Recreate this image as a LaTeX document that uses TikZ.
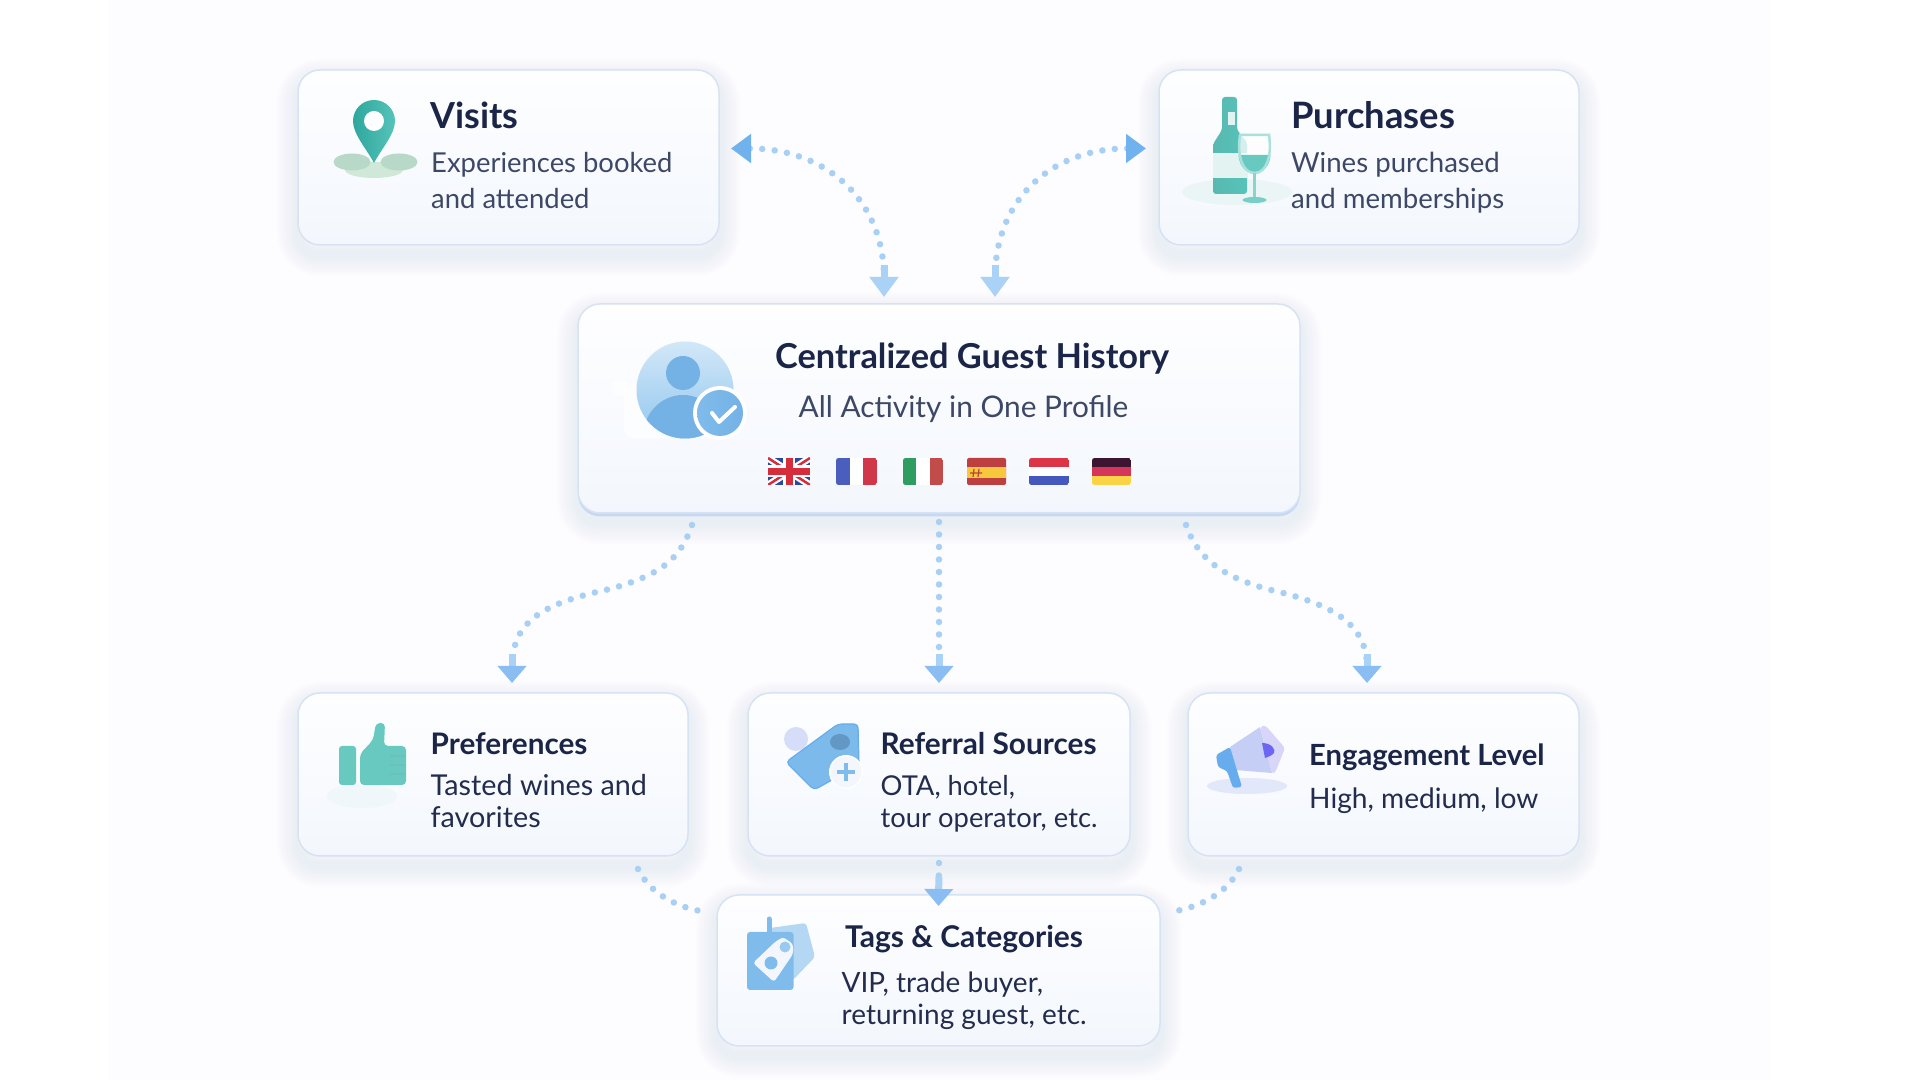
\documentclass[tikz,border=0pt]{standalone}
\usepackage{fontspec}
\setmainfont{Lato}
\usepackage{xcolor}
\usetikzlibrary{arrows.meta, calc}
\definecolor{panelbg}{RGB}{253, 252, 254}
\definecolor{cardtop}{RGB}{254, 254, 255}
\definecolor{cardlow}{RGB}{243, 247, 253}
\definecolor{cardedge}{RGB}{215, 226, 243}
\definecolor{shadowblue}{RGB}{176, 196, 232}
\definecolor{centeredge}{RGB}{198, 217, 243}
\definecolor{titleink}{RGB}{27, 37, 71}
\definecolor{bodyink}{RGB}{61, 71, 102}
\definecolor{lowink}{RGB}{35, 44, 77}
\definecolor{flowdot}{RGB}{168, 208, 245}
\definecolor{flowhead}{RGB}{112, 178, 238}
\definecolor{flowlow}{RGB}{138, 190, 242}
\definecolor{flowstem}{RGB}{170, 210, 246}
\definecolor{tealdark}{RGB}{47, 167, 157}
\definecolor{teallight}{RGB}{86, 195, 185}
\definecolor{tealpale}{RGB}{227, 243, 242}
\definecolor{sagemid}{RGB}{184, 216, 200}
\definecolor{sagepale}{RGB}{208, 232, 215}
\definecolor{skydark}{RGB}{116, 178, 230}
\definecolor{skymid}{RGB}{127, 188, 235}
\definecolor{skypale}{RGB}{180, 216, 243}
\definecolor{lavender}{RGB}{197, 207, 245}
\definecolor{lavpale}{RGB}{216, 214, 248}
\definecolor{violetcore}{RGB}{108, 102, 242}
\definecolor{megablue}{RGB}{103, 173, 238}
\definecolor{ukblue}{RGB}{43, 74, 158}
\definecolor{ukred}{RGB}{214, 45, 60}
\definecolor{frblue}{RGB}{74, 95, 189}
\definecolor{frred}{RGB}{208, 56, 74}
\definecolor{itgreen}{RGB}{45, 158, 95}
\definecolor{itred}{RGB}{194, 76, 74}
\definecolor{esred}{RGB}{190, 63, 63}
\definecolor{esgold}{RGB}{246, 201, 61}
\definecolor{nlred}{RGB}{220, 53, 69}
\definecolor{nlblue}{RGB}{68, 88, 190}
\definecolor{deblack}{RGB}{62, 21, 48}
\definecolor{dered}{RGB}{213, 53, 90}
\definecolor{degold}{RGB}{251, 211, 71}
\tikzset{
    softlayer/.style={preaction={draw=shadowblue, line width=#1,
        opacity=0.018, transform canvas={yshift=-0.10cm}}},
    softstack/.style={softlayer=0.42cm, softlayer=0.38cm,
        softlayer=0.34cm, softlayer=0.30cm, softlayer=0.26cm, softlayer=0.22cm,
        softlayer=0.18cm, softlayer=0.14cm, softlayer=0.10cm, softlayer=0.06cm},
    guestcard/.style={softstack,
        draw=cardedge, line width=0.015cm, rounded corners=0.22cm,
        top color=cardtop, bottom color=cardlow,
        inner sep=0pt, outer sep=0pt, anchor=north west},
    centercard/.style={softstack, preaction={fill=centeredge, transform canvas={yshift=-0.035cm}},
        draw=cardedge, line width=0.015cm, rounded corners=0.22cm,
        top color=cardtop, bottom color=cardlow,
        inner sep=0pt, outer sep=0pt, anchor=north west},
    cardtitle/.style={font=\fontsize{#1}{#1}\selectfont\bfseries, text=titleink,
        inner sep=0pt, anchor=base west},
    cardbody/.style={font=\fontsize{#1}{10.2}\selectfont, text=bodyink, align=left,
        inner sep=0pt, anchor=base west},
    lowbody/.style={font=\fontsize{#1}{9.2}\selectfont, text=lowink, align=left,
        inner sep=0pt, anchor=base west},
    dotflow/.style={draw=flowdot, line width=0.065cm, line cap=round,
        dash pattern=on 0pt off 0.125cm},
    headtip/.tip={Triangle[length=0.2cm, width=0.28cm, color=flowhead]},
    lowtip/.tip={Triangle[length=0.17cm, width=0.28cm, color=flowlow]},
    stemtip/.tip={Rectangle[length=0.12cm, width=0.05cm, color=flowstem, sep=0pt]},
}
\begin{document}
\begin{tikzpicture}
    \useasboundingbox (0,0) rectangle (19.2,10.8);
    % Page and panel
    \fill[white] (0,0) rectangle (19.2,10.8);
    \fill[panelbg] (1.08,0) rectangle (17.70,10.8);
    % Cards
    \node[guestcard, minimum width=4.21cm, minimum height=1.75cm] (visits) at (2.98,10.10) {};
    \node[guestcard, minimum width=4.20cm, minimum height=1.75cm] (purchases) at (11.59,10.10) {};
    \node[centercard, minimum width=7.22cm, minimum height=2.09cm] (central) at (5.78,7.76) {};
    \node[guestcard, minimum width=3.90cm, minimum height=1.63cm] (preferences) at (2.98,3.87) {};
    \node[guestcard, minimum width=3.82cm, minimum height=1.63cm] (referral) at (7.48,3.87) {};
    \node[guestcard, minimum width=3.91cm, minimum height=1.63cm] (engagement) at (11.88,3.87) {};
    \node[guestcard, minimum width=4.43cm, minimum height=1.51cm] (tags) at (7.17,1.85) {};
    % Card texts
    \node[cardtitle=10.2] (visitsTitle) at (4.30,9.515) {Visits};
    \node[cardbody=7.8] (visitsBody) at (4.305,8.715) {Experiences booked\\and attended};
    \node[cardtitle=10.35] (purchasesTitle) at (12.905,9.515) {Purchases};
    \node[cardbody=7.85] (purchasesBody) at (12.905,8.715) {Wines purchased\\and memberships};
    \node[cardtitle=9.78] (centralTitle) at (7.745,7.115) {Centralized Guest History};
    \node[cardbody=8.48] (centralBody) at (7.98,6.62) {All Activity in One Profile};
    \node[cardtitle=8.45] (preferencesTitle) at (4.30,3.255) {Preferences};
    \node[lowbody=8.18] (preferencesBody) at (4.30,2.525) {Tasted wines and\\favorites};
    \node[cardtitle=8.48] (referralTitle) at (8.80,3.255) {Referral Sources};
    \node[lowbody=7.78] (referralBody) at (8.80,2.525) {OTA, hotel,\\tour operator, etc.};
    \node[cardtitle=8.3] (engagementTitle) at (13.085,3.14) {Engagement Level};
    \node[lowbody=8] (engagementBody) at (13.085,2.71) {High, medium, low};
    \node[cardtitle=8.53] (tagsTitle) at (8.445,1.325) {Tags \& Categories};
    \node[lowbody=7.96] (tagsBody) at (8.41,0.555) {VIP, trade buyer,\\returning guest, etc.};
    % Pin icon
    \fill[sagepale] (3.74,9.10) ellipse (0.29 and 0.08);
    \fill[sagemid] (3.52,9.18) ellipse (0.185 and 0.085);
    \fill[sagemid] (3.99,9.18) ellipse (0.185 and 0.085);
    \shade[left color=tealdark, right color=teallight] (3.74,9.17)
        .. controls (3.66,9.32) and (3.53,9.46) .. (3.53,9.59)
        arc (180:0:0.21)
        .. controls (3.95,9.46) and (3.82,9.32) .. (3.74,9.17) -- cycle;
    \fill[white] (3.74,9.59) circle (0.10);
    % Bottle and glass icon
    \fill[tealpale, opacity=0.6] (12.37,8.88) ellipse (0.55 and 0.13);
    \shade[left color=tealdark!80!white, right color=teallight, rounded corners=0.03cm]
        (12.13,8.86) -- (12.13,9.36) -- (12.22,9.50) -- (12.22,9.83) -- (12.37,9.83)
        -- (12.37,9.50) -- (12.47,9.38) -- (12.47,8.86) -- cycle;
    \fill[tealpale] (12.13,9.02) rectangle (12.47,9.27);
    \fill[tealpale] (12.28,9.55) rectangle (12.35,9.68);
    \fill[white, opacity=0.75] (12.40,9.45) .. controls (12.37,9.25) and (12.42,9.07) .. (12.545,9.07)
        .. controls (12.67,9.07) and (12.72,9.25) .. (12.69,9.45) -- cycle;
    \fill[teallight!90!white] (12.385,9.25) .. controls (12.39,9.15) and (12.45,9.07) .. (12.545,9.07)
        .. controls (12.64,9.07) and (12.70,9.15) .. (12.705,9.25) -- cycle;
    \draw[teallight!50!white, line width=0.025cm] (12.40,9.45) .. controls (12.37,9.25) and (12.42,9.07) .. (12.545,9.07)
        .. controls (12.67,9.07) and (12.72,9.25) .. (12.69,9.45) -- cycle;
    \draw[teallight!70!white, line width=0.035cm] (12.545,9.07) -- (12.545,8.82);
    \fill[teallight!80!white] (12.545,8.80) ellipse (0.12 and 0.03);
    % Guest icon
    \fill[white, opacity=0.7] (6.20,6.92) circle (0.08);
    \fill[white, opacity=0.7, rounded corners=0.1cm] (6.24,6.42) rectangle (7.10,6.95);
    \shade[top color=skypale!60!white, bottom color=skymid!85!white] (6.85,6.90) circle (0.485);
    \fill[skydark] (6.83,7.07) circle (0.17);
    \begin{scope}
        \clip (6.85,6.90) circle (0.485);
        \fill[skydark] (6.83,6.43) ellipse (0.40 and 0.42);
    \end{scope}
    \fill[white] (7.20,6.67) circle (0.27);
    \shade[left color=skymid, right color=skydark] (7.20,6.67) circle (0.23);
    \draw[white, line width=0.04cm, line cap=round, line join=round]
        (7.12,6.67) -- (7.19,6.58) -- (7.35,6.73);
    % Flags
    \begin{scope}
        \clip (7.68,5.95) rectangle (8.10,6.22);
        \fill[ukblue] (7.68,5.95) rectangle (8.10,6.22);
        \draw[white, line width=0.07cm] (7.68,5.95) -- (8.10,6.22) (7.68,6.22) -- (8.10,5.95);
        \draw[ukred, line width=0.025cm] (7.68,5.95) -- (8.10,6.22) (7.68,6.22) -- (8.10,5.95);
        \draw[white, line width=0.12cm] (7.89,5.95) -- (7.89,6.22) (7.68,6.085) -- (8.10,6.085);
        \draw[ukred, line width=0.07cm] (7.89,5.95) -- (7.89,6.22) (7.68,6.085) -- (8.10,6.085);
    \end{scope}
    \foreach \flagx/\flagw/\cola/\colb/\colc in {8.36/0.41/frblue/white/frred, 9.03/0.40/itgreen/white/itred} {
        \begin{scope}
            \clip[rounded corners=0.025cm] (\flagx,5.95) rectangle ++(\flagw,0.27);
            \fill[\cola] (\flagx,5.95) rectangle ++({\flagw/3},0.27);
            \fill[\colb] ({\flagx+\flagw/3},5.95) rectangle ++({\flagw/3},0.27);
            \fill[\colc] ({\flagx+2*\flagw/3},5.95) rectangle ++({\flagw/3},0.27);
        \end{scope}
    }
    \foreach \flagx/\flagw/\cola/\colb/\colc in {10.29/0.40/nlred/white/nlblue, 10.92/0.39/deblack/dered/degold} {
        \begin{scope}
            \clip[rounded corners=0.025cm] (\flagx,5.95) rectangle ++(\flagw,0.27);
            \fill[\cola] (\flagx,6.13) rectangle ++(\flagw,0.09);
            \fill[\colb] (\flagx,6.04) rectangle ++(\flagw,0.09);
            \fill[\colc] (\flagx,5.95) rectangle ++(\flagw,0.09);
        \end{scope}
    }
    \fill[esred, rounded corners=0.02cm] (9.67,5.95) rectangle (10.06,6.22);
    \fill[esgold] (9.67,6.02) rectangle (10.06,6.13);
    \draw[esred, line width=0.012cm] (9.70,6.07) -- (9.82,6.07) (9.73,6.03) -- (9.74,6.11) (9.78,6.03) -- (9.79,6.11);
    % Thumb icon
    \fill[tealpale, opacity=0.3] (3.62,2.84) ellipse (0.35 and 0.12);
    \fill[teallight!90!white, rounded corners=0.03cm] (3.39,2.95) rectangle (3.56,3.34);
    \fill[teallight!90!white, rounded corners=0.04cm] (3.60,2.95) -- (3.60,3.26) -- (3.73,3.40) -- (3.76,3.57)
        -- (3.85,3.57) -- (3.84,3.34) -- (4.06,3.34) -- (4.06,2.95) -- cycle;
    \foreach \fingery in {3.24,3.15,3.06} {
        \draw[tealdark!70!white, line width=0.012cm] (3.90,\fingery) -- (4.06,\fingery);
    }
    % Referral tag icon
    \fill[lavender!70!white] (7.96,3.41) circle (0.12);
    \fill[skymid!85!megablue, draw=megablue, line width=0.012cm, rounded corners=0.04cm]
        (8.38,3.56) -- (8.58,3.56) -- (8.59,3.15) -- (8.14,2.90) -- (7.86,3.18) -- cycle;
    \fill[skydark!85!black] (8.40,3.38) ellipse (0.10 and 0.08);
    \fill[white] (8.46,3.08) circle (0.17);
    \fill[cardlow] (8.46,3.08) circle (0.155);
    \draw[skymid, line width=0.045cm] (8.37,3.08) -- (8.55,3.08) (8.46,2.99) -- (8.46,3.17);
    % Megaphone icon
    \fill[lavender!50!white] (12.47,2.94) ellipse (0.40 and 0.08);
    \fill[lavender] (12.30,3.33) -- (12.60,3.53) -- (12.72,3.07) -- (12.35,3.10) -- cycle;
    \fill[lavpale, rounded corners=0.03cm] (12.60,3.53) -- (12.65,3.55) -- (12.85,3.32) -- (12.75,3.07) -- (12.72,3.07) -- cycle;
    \fill[violetcore] (12.62,3.37) .. controls (12.72,3.37) and (12.76,3.30) .. (12.74,3.27)
        .. controls (12.72,3.24) and (12.67,3.23) .. (12.65,3.22) -- cycle;
    \fill[megablue, rounded corners=0.025cm] (12.16,3.25) -- (12.30,3.33) -- (12.42,2.93)
        -- (12.33,2.92) -- (12.27,3.09) -- (12.18,3.13) -- cycle;
    % Category tag icon
    \fill[skypale, rounded corners=0.03cm] (7.70,1.52) -- (8.06,1.57) -- (8.15,1.23) -- (7.93,1.00) -- (7.70,1.00) -- cycle;
    \draw[skymid, line width=0.05cm, line cap=round] (7.69,1.48) -- (7.69,1.61);
    \fill[skymid, rounded corners=0.03cm] (7.47,0.90) rectangle (7.935,1.48);
    \fill[cardlow, rounded corners=0.03cm] (7.75,1.38) -- (7.83,1.43) -- (7.93,1.36) -- (7.93,1.26)
        -- (7.74,0.98) -- (7.53,1.17) -- cycle;
    \fill[skymid!80!white] (7.85,1.33) circle (0.055);
    \fill[skymid] (7.71,1.17) circle (0.065);
    % Connectors
    \coordinate (prefBend) at (6.10,4.91);
    \coordinate (engageBend) at (12.71,4.90);
    \draw[dotflow, {headtip}-{stemtip[] headtip[color=flowstem]}] ([xshift=0.12cm,yshift=0.09cm]visits.east)
        .. controls +(0.95,0) and +(0,0.97) .. ([xshift=-0.55cm,yshift=0.07cm]central.north);
    \draw[dotflow, {headtip}-{stemtip[] headtip[color=flowstem]}] ([xshift=-0.13cm,yshift=0.09cm]purchases.west)
        .. controls +(-0.95,0) and +(0,0.97) .. ([xshift=0.56cm,yshift=0.07cm]central.north);
    \draw[dotflow, -{stemtip[] lowtip}] ([xshift=-2.47cm,yshift=-0.12cm]central.south)
        .. controls +(-0.12,-0.35) and +(0.50,0.14) .. (prefBend)
        .. controls +(-0.65,-0.14) and +(0,0.63) .. ([xshift=0.19cm,yshift=0.10cm]preferences.north);
    \draw[dotflow, -{stemtip[] lowtip}] ([yshift=-0.09cm]central.south) -- ([yshift=0.10cm]referral.north);
    \draw[dotflow, -{stemtip[] lowtip}] ([xshift=2.47cm,yshift=-0.12cm]central.south)
        .. controls +(0.12,-0.35) and +(-0.46,0.12) .. (engageBend)
        .. controls +(0.60,-0.14) and +(0,0.60) .. ([xshift=-0.165cm,yshift=0.10cm]engagement.north);
    \draw[dotflow, -{stemtip[] lowtip}] ([yshift=-0.07cm]referral.south) -- ([yshift=-0.11cm]tags.north);
    \draw[dotflow] ([xshift=-0.50cm,yshift=-0.13cm]preferences.south east)
        .. controls +(0.12,-0.25) and +(-0.28,0.04) .. ([xshift=-0.11cm,yshift=-0.17cm]tags.north west);
    \draw[dotflow] ([xshift=0.51cm,yshift=-0.13cm]engagement.south west)
        .. controls +(-0.12,-0.25) and +(0.28,0.04) .. ([xshift=0.10cm,yshift=-0.17cm]tags.north east);
\end{tikzpicture}
\end{document}
